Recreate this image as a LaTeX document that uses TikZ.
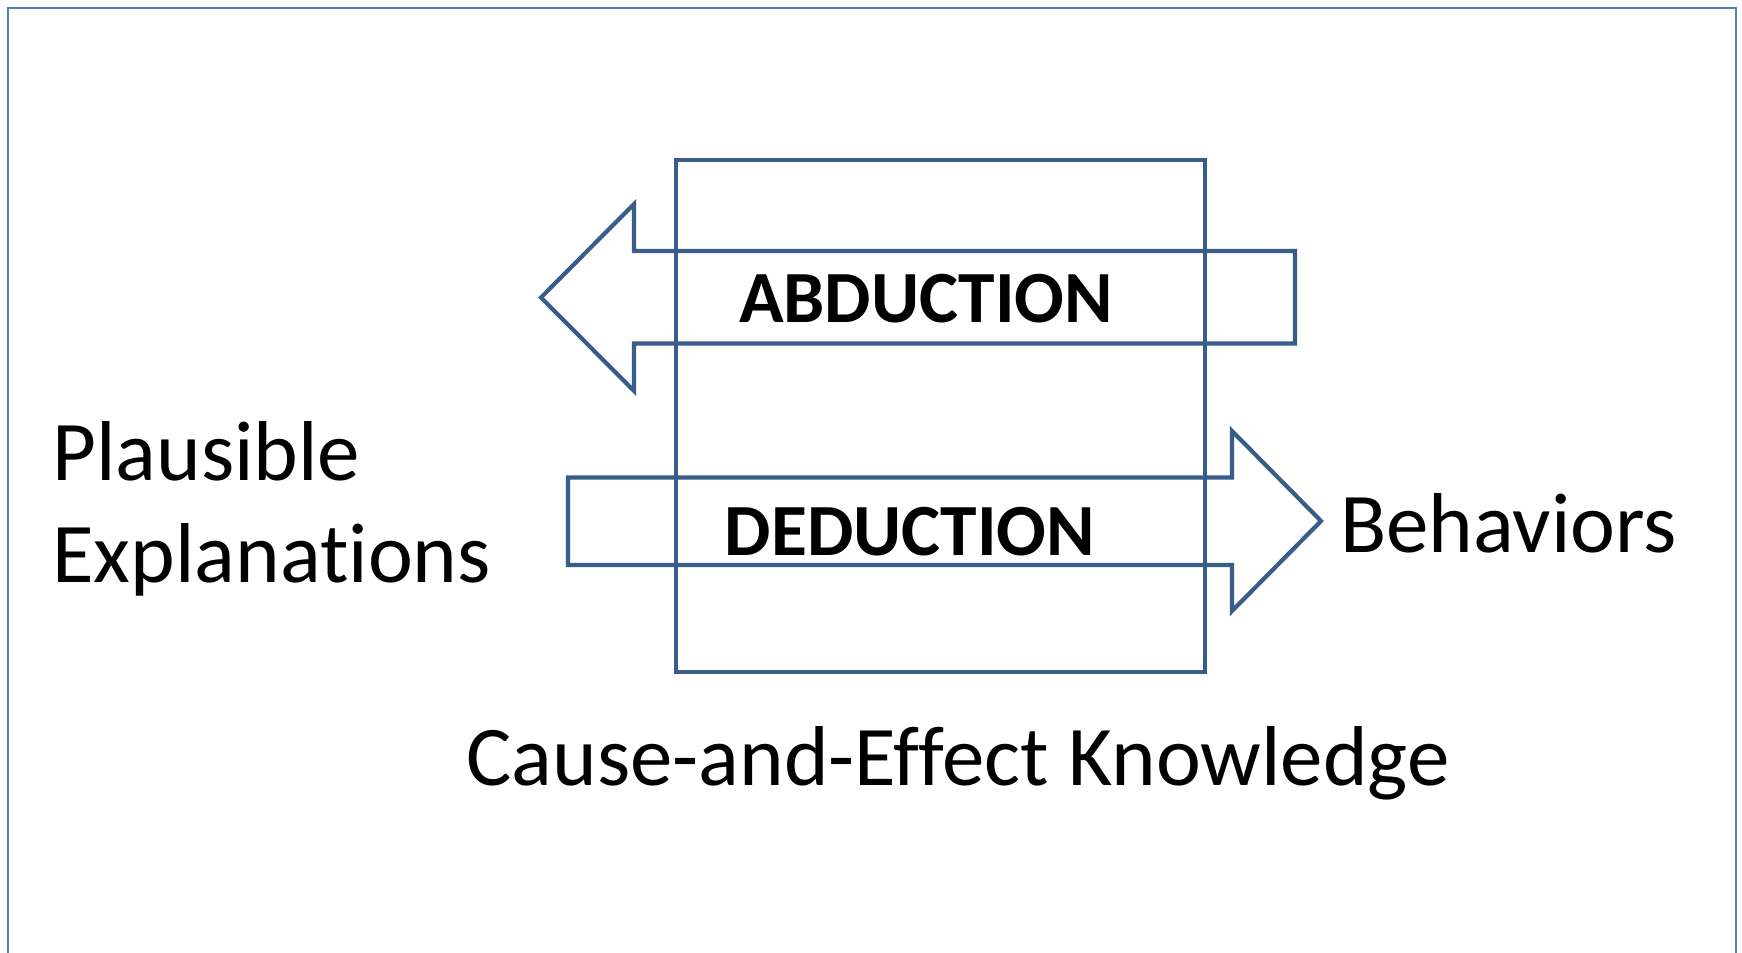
\documentclass[tikz,border=0pt]{standalone}
\usepackage{fontspec}
\setmainfont{Carlito}[Ligatures={TeX,NoCommon}]
\definecolor{outline}{HTML}{385D8A}
\definecolor{frameblue}{HTML}{4F81BD}
\tikzset{
  shapeline/.style={draw=outline, line width=2.1pt, line join=miter},
  framestyle/.style={draw=frameblue, line width=0.9pt},
  bigtext/.style={inner sep=0pt, font=\fontsize{42.5}{51}\selectfont},
  boldtext/.style={inner sep=0pt, font=\fontsize{36.8}{44}\selectfont\bfseries},
}
\begin{document}
\begin{tikzpicture}[x=0.5pt, y=-0.5pt]
\useasboundingbox (0,0) rectangle (1742,953);
\fill[white] (0,0) rectangle (1742,953);
% outer frame (bottom edge lies outside the picture)
\begin{scope}
\clip (0,0) rectangle (1742,953);
\draw[framestyle] (8,8) rectangle (1736,990);
\end{scope}
% knowledge box
\draw[shapeline] (676,160) rectangle (1205,672);
% abduction arrow (pointing left)
\draw[shapeline] (541,297.5) -- (634,204) -- (634,251) -- (1295,251) -- (1295,343.5)
  -- (634,343.5) -- (634,391) -- cycle;
% deduction arrow (pointing right)
\draw[shapeline] (568,477.5) -- (1232,477.5) -- (1232,431) -- (1321,521) -- (1232,611)
  -- (1232,565) -- (568,565) -- cycle;
% labels
\node[boldtext, anchor=base] (abd) at (926,322) {ABDUCTION};
\node[boldtext, anchor=base] (ded) at (910,555) {DEDUCTION};
\node[bigtext, anchor=base west, align=left] (expl) at (52,582) {Plausible\\Explanations};
\node[bigtext, anchor=base west] (beh) at (1340,552) {Behaviors};
\node[bigtext, anchor=base] (know) at (958,785) {Cause-and-Effect Knowledge};
\end{tikzpicture}
\end{document}
